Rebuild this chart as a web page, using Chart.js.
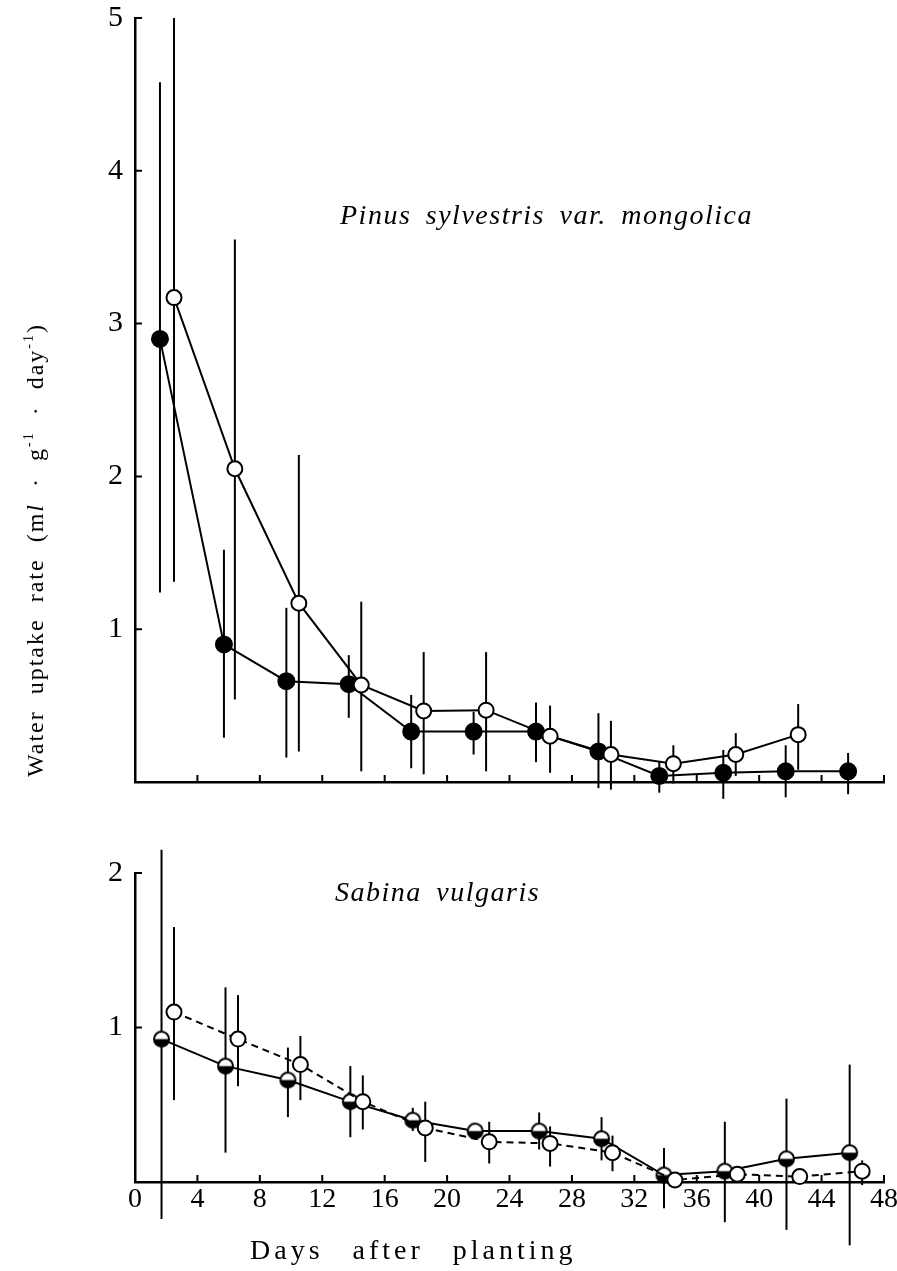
<!DOCTYPE html>
<html>
<head>
<meta charset="utf-8">
<script src="https://cdn.jsdelivr.net/npm/chart.js@4.4.1/dist/chart.umd.min.js"></script>
<style>
  html, body { margin: 0; padding: 0; background: #fff; }
  body { width: 897px; height: 1271px; position: relative; overflow: hidden;
         font-family: "Liberation Serif", "DejaVu Serif", serif; color: #000; }
  canvas { position: absolute; left: 0; }
  #topChart { top: 0; }
  #botChart { top: 840px; }
  .species { position: absolute; font-style: italic; font-size: 28px; line-height: 28px;
             letter-spacing: 1.5px; word-spacing: 6px; white-space: nowrap; }
  #yTitle { position: absolute; left: 35px; top: 550px; white-space: nowrap;
            transform: translate(-50%, -50%) rotate(-90deg);
            font-size: 24px; line-height: 24px; letter-spacing: 2px; word-spacing: 8px; }
  #yTitle sup { font-size: 14px; vertical-align: 10px; line-height: 0; }
  #xTitle { position: absolute; left: 250px; top: 1236px; font-size: 28px; line-height: 28px;
            letter-spacing: 4px; word-spacing: 18px; white-space: nowrap; }
</style>
</head>
<body>
<canvas id="topChart" width="897" height="800"></canvas>
<canvas id="botChart" width="897" height="431"></canvas>
<div class="species" style="left:340px; top:201px;">Pinus sylvestris var. mongolica</div>
<div class="species" style="left:335px; top:878px;">Sabina vulgaris</div>
<div id="yTitle">Water uptake rate (m<i>l</i> · g<sup>-1</sup> · day<sup>-1</sup>)</div>
<div id="xTitle">Days after planting</div>
<script>
// tick labels
const dayTicks = [0, 4, 8, 12, 16, 20, 24, 28, 32, 36, 40, 44, 48];
const pinusTicks = [1, 2, 3, 4, 5];
const sabinaTicks = [1, 2];

// Pinus sylvestris var. mongolica, filled circles
const pinusFilledDays = [1.6, 5.7, 9.7, 13.7, 17.7, 21.7, 25.7, 29.7, 33.6, 37.7, 41.7, 45.7];
const pinusFilledRate = [2.90, 0.90, 0.66, 0.64, 0.33, 0.33, 0.33, 0.20, 0.04, 0.06, 0.07, 0.07];
const pinusFilledLow  = [1.24, 0.29, 0.16, 0.42, 0.09, 0.18, 0.13, -0.04, -0.07, -0.11, -0.10, -0.08];
const pinusFilledHigh = [4.58, 1.52, 1.14, 0.83, 0.57, 0.46, 0.52, 0.45, 0.13, 0.21, 0.24, 0.19];

// Pinus, open circles
const pinusOpenDays = [2.5, 6.4, 10.5, 14.5, 18.5, 22.5, 26.6, 30.5, 34.5, 38.5, 42.5];
const pinusOpenRate = [3.17, 2.05, 1.17, 0.635, 0.465, 0.47, 0.30, 0.18, 0.12, 0.18, 0.31];
const pinusOpenLow  = [1.31, 0.54, 0.20, 0.07, 0.05, 0.07, 0.06, -0.05, -0.01, 0.04, 0.08];
const pinusOpenHigh = [5.0, 3.55, 2.14, 1.18, 0.85, 0.85, 0.50, 0.40, 0.24, 0.32, 0.51];

// Sabina vulgaris, half filled circles (solid line)
const sabinaHalfDays = [1.7, 5.8, 9.8, 13.8, 17.8, 21.8, 25.9, 29.9, 33.9, 37.8, 41.75, 45.8];
const sabinaHalfRate = [0.925, 0.75, 0.66, 0.52, 0.40, 0.33, 0.33, 0.28, 0.045, 0.07, 0.15, 0.19];
const sabinaHalfLow  = [-0.24, 0.19, 0.42, 0.29, 0.33, 0.30, 0.21, 0.14, -0.17, -0.26, -0.31, -0.41];
const sabinaHalfHigh = [2.15, 1.26, 0.87, 0.75, 0.48, 0.36, 0.45, 0.42, 0.22, 0.39, 0.54, 0.76];

// Sabina, open circles (dashed line)
const sabinaOpenDays = [2.5, 6.6, 10.6, 14.6, 18.6, 22.7, 26.6, 30.6, 34.6, 38.6, 42.6, 46.6];
const sabinaOpenRate = [1.10, 0.925, 0.76, 0.52, 0.35, 0.26, 0.25, 0.19, 0.013, 0.05, 0.035, 0.07];
const sabinaOpenLow  = [0.53, 0.62, 0.53, 0.34, 0.13, 0.12, 0.10, 0.07, -0.01, 0.02, 0.01, -0.02];
const sabinaOpenHigh = [1.65, 1.21, 0.945, 0.69, 0.52, 0.39, 0.36, 0.30, 0.03, 0.08, 0.06, 0.14];

const FONT = "'Liberation Serif', 'DejaVu Serif', serif";

function points(days, rate) {
  return days.map((d, i) => ({ x: d, y: rate[i] }));
}

// half white / half black marker
function halfMarker(r) {
  const c = document.createElement("canvas");
  const s = Math.ceil(r * 2 + 4);
  c.width = c.height = s;
  const g = c.getContext("2d");
  const m = s / 2;
  g.fillStyle = "#fff";
  g.beginPath(); g.arc(m, m, r, 0, 2 * Math.PI); g.fill();
  g.fillStyle = "#000";
  g.beginPath(); g.arc(m, m, r, 0, Math.PI); g.fill();
  g.lineWidth = 2; g.strokeStyle = "#000";
  g.beginPath(); g.arc(m, m, r, 0, 2 * Math.PI); g.stroke();
  return c;
}

const errorBars = {
  id: "errorBars",
  beforeDatasetsDraw(chart) {
    const { ctx, scales: { x, y } } = chart;
    ctx.save();
    ctx.strokeStyle = "#000";
    ctx.lineWidth = 2;
    chart.data.datasets.forEach(ds => {
      if (!ds.errLow) return;
      ds.data.forEach((p, i) => {
        const px = x.getPixelForValue(p.x);
        ctx.beginPath();
        ctx.moveTo(px, y.getPixelForValue(ds.errLow[i]));
        ctx.lineTo(px, y.getPixelForValue(ds.errHigh[i]));
        ctx.stroke();
      });
    });
    ctx.restore();
  }
};

// tick marks pointing into the plot
const inwardTicks = {
  id: "inwardTicks",
  afterDraw(chart) {
    const { ctx, chartArea: a, scales: { x, y } } = chart;
    ctx.save();
    ctx.strokeStyle = "#000";
    ctx.lineWidth = 2;
    ctx.beginPath();
    x.ticks.forEach(t => {
      if (t.value === 0) return;
      const px = x.getPixelForValue(t.value);
      ctx.moveTo(px, a.bottom);
      ctx.lineTo(px, a.bottom - 7);
    });
    y.ticks.forEach(t => {
      const py = y.getPixelForValue(t.value);
      ctx.moveTo(a.left, py);
      ctx.lineTo(a.left + 7, py);
    });
    ctx.stroke();
    ctx.restore();
  }
};

function makeChart(id, datasets, yMax, yTicks, opts) {
  return new Chart(document.getElementById(id), {
    type: "scatter",
    data: { datasets },
    options: {
      responsive: false,
      animation: false,
      layout: { padding: { top: opts.top, right: 13, left: 0, bottom: 0 } },
      plugins: { legend: { display: false }, tooltip: { enabled: false } },
      scales: {
        x: {
          type: "linear", min: 0, max: 48,
          grid: { display: false, drawTicks: false },
          border: { color: "#000", width: 2.5 },
          ticks: { display: opts.xLabels, color: "#000", padding: 4, font: { family: FONT, size: 28, lineHeight: 1 } },
          afterBuildTicks: s => { s.ticks = dayTicks.map(v => ({ value: v })); },
          afterFit: s => {
            s.height = opts.xHeight;
            s.paddingLeft = 0; s.paddingRight = 0;
          }
        },
        y: {
          type: "linear", min: 0, max: yMax,
          grid: { display: false, drawTicks: false },
          border: { color: "#000", width: 2.5 },
          ticks: { color: "#000", padding: 12, font: { family: FONT, size: 30, lineHeight: 1 } },
          afterBuildTicks: s => { s.ticks = yTicks.map(v => ({ value: v })); },
          afterFit: s => {
            s.width = 135;
            s.paddingTop = 0; s.paddingBottom = 0;
          }
        }
      }
    },
    plugins: [errorBars, inwardTicks]
  });
}

function series(days, rate, low, high, style) {
  return Object.assign({
    data: points(days, rate),
    errLow: low,
    errHigh: high,
    showLine: true,
    borderColor: "#000",
    borderWidth: 2,
    pointBorderColor: "#000",
    pointBorderWidth: 2,
    clip: false
  }, style);
}

makeChart("topChart", [
  series(pinusOpenDays, pinusOpenRate, pinusOpenLow, pinusOpenHigh,
    { pointRadius: 7.5, pointBackgroundColor: "#fff" }),
  series(pinusFilledDays, pinusFilledRate, pinusFilledLow, pinusFilledHigh,
    { pointRadius: 8, pointBackgroundColor: "#000" })
], 5, pinusTicks, { top: 18, xHeight: 18, xLabels: false });

const half = halfMarker(7.5);
makeChart("botChart", [
  series(sabinaOpenDays, sabinaOpenRate, sabinaOpenLow, sabinaOpenHigh,
    { pointRadius: 7.5, pointBackgroundColor: "#fff", borderDash: [7, 5] }),
  series(sabinaHalfDays, sabinaHalfRate, sabinaHalfLow, sabinaHalfHigh,
    { pointRadius: 8, pointStyle: half })
], 2, sabinaTicks, { top: 33, xHeight: 89, xLabels: true });
</script>
</body>
</html>
